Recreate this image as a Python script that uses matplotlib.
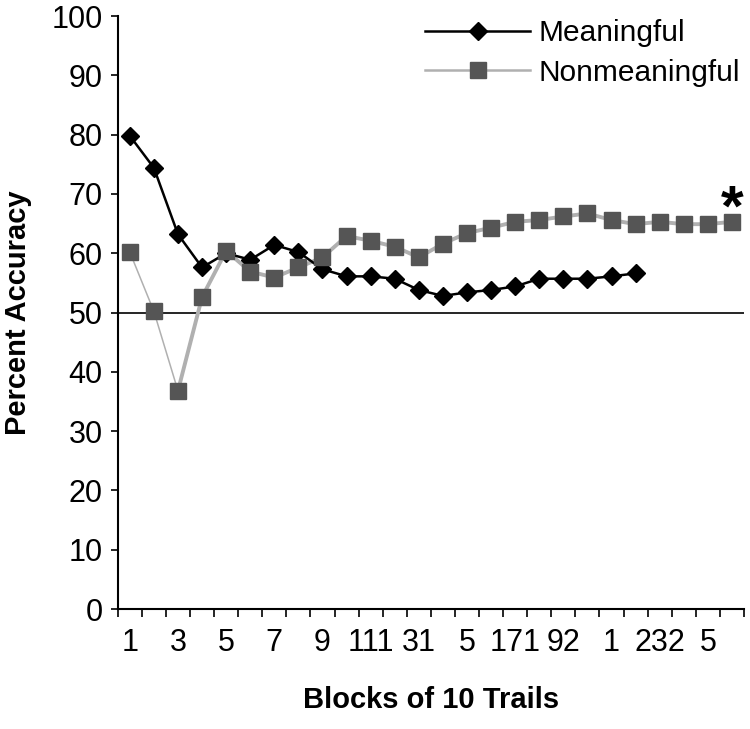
import matplotlib.pyplot as plt
import numpy as np

plt.rcParams['font.family'] = ['Liberation Sans', 'DejaVu Sans']

meaningful = [79.8, 74.4, 63.2, 57.6, 60.0, 58.9, 61.4, 60.2, 57.3, 56.1,
              56.1, 55.7, 53.8, 52.8, 53.4, 53.8, 54.4, 55.7, 55.7, 55.7,
              56.1, 56.6]
nonmeaningful = [60.2, 50.2, 36.8, 52.6, 60.4, 56.9, 55.9, 57.6, 59.3, 62.9,
                 62.1, 61.1, 59.3, 61.6, 63.4, 64.3, 65.3, 65.6, 66.2, 66.7,
                 65.6, 64.9, 65.3, 64.9, 64.9, 65.3]
tick_pos = [1, 3, 5, 7, 9, 11, 13, 15, 17, 19, 21, 23, 25]
tick_labels = ['1', '3', '5', '7', '9', '111', '31', '5', '171', '92', '1', '232', '5']

xm = np.arange(1, len(meaningful) + 1)
xn = np.arange(1, len(nonmeaningful) + 1)

fig = plt.figure(figsize=(7.5, 7.29), dpi=100)
ax = fig.add_axes([0.157, 0.1646, 0.835, 0.8134])

ax.axhline(50, color='black', lw=1.2, zorder=1)

ax.plot(xm, meaningful, color='black', lw=1.8, marker='D', ms=9,
        markerfacecolor='black', markeredgecolor='black', zorder=3,
        label='Meaningful')

# nonmeaningful: thin line for first blocks, thicker afterwards
ax.plot(xn[:3], nonmeaningful[:3], color='#b0b0b0', lw=1.1, zorder=2)
ax.plot(xn[2:], nonmeaningful[2:], color='#b0b0b0', lw=2.8, zorder=2)
ax.plot(xn, nonmeaningful, ls='none', marker='s', ms=11.5,
        markerfacecolor='#555555', markeredgecolor='#555555', zorder=4)
ax.plot([], [], color='#b0b0b0', lw=1.8, marker='s', ms=11.5,
        markerfacecolor='#555555', markeredgecolor='#555555',
        label='Nonmeaningful')

ax.text(26.0, 67.2, '*', fontsize=42, fontweight='bold', ha='center', va='center')

ax.set_xlim(0.5, 26.5)
ax.set_ylim(0, 100)
ax.set_yticks(np.arange(0, 101, 10))
ax.set_xticks(tick_pos)
ax.set_xticklabels(tick_labels)
ax.set_xticks(np.arange(0.5, 27, 1), minor=True)
ax.tick_params(axis='x', which='major', length=0, pad=14, labelsize=22)
ax.tick_params(axis='x', which='minor', length=6, width=1.2, direction='out')
ax.tick_params(axis='y', length=5, width=1.2, pad=6, labelsize=22)

for s in ['top', 'right']:
    ax.spines[s].set_visible(False)
for s in ['left', 'bottom']:
    ax.spines[s].set_linewidth(1.5)

ax.set_xlabel('Blocks of 10 Trails', fontsize=21, fontweight='bold', labelpad=20)
ax.set_ylabel('Percent Accuracy', fontsize=21, fontweight='bold', labelpad=14)

ax.legend(loc='upper right', bbox_to_anchor=(1.037, 1.04), frameon=False,
          fontsize=21.5, handlelength=3.5, handletextpad=0.3, labelspacing=0.38)

fig.savefig('out.png', dpi=100)
